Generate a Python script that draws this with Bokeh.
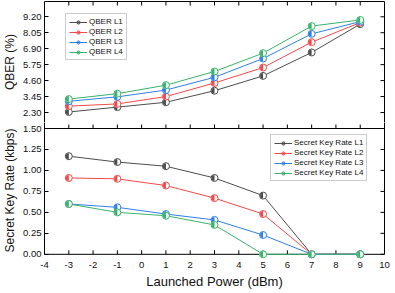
import numpy as np
from bokeh.plotting import figure
from bokeh.models import (LinearAxis, FixedTicker, PrintfTickFormatter, Legend,
                          LegendItem, ColumnDataSource, Range1d, Span)
from bokeh.layouts import column
from bokeh.embed import file_html
from bokeh.resources import INLINE

# ---------------- data ----------------
power = [-3, -1, 1, 3, 5, 7, 9]
qber_l1 = [2.34, 2.69, 3.04, 3.87, 4.94, 6.63, 8.67]
qber_l2 = [2.76, 2.92, 3.45, 4.43, 5.54, 7.37, 8.78]
qber_l3 = [3.11, 3.43, 3.92, 4.84, 6.19, 7.97, 8.85]
qber_l4 = [3.27, 3.66, 4.27, 5.26, 6.58, 8.53, 8.97]
skr_l1 = [1.17, 1.10, 1.05, 0.91, 0.70, 0.0, 0.0]
skr_l2 = [0.91, 0.90, 0.82, 0.67, 0.48, 0.0, 0.0]
skr_l3 = [0.60, 0.56, 0.48, 0.41, 0.23, 0.0, 0.0]
skr_l4 = [0.60, 0.50, 0.46, 0.35, 0.0, 0.0, 0.0]
qber_names = ["QBER L1", "QBER L2", "QBER L3", "QBER L4"]
skr_names = ["Secret Key Rate L1", "Secret Key Rate L2",
             "Secret Key Rate L3", "Secret Key Rate L4"]
x_ticks = list(range(-4, 11))
qber_ticks = [2.30, 3.45, 4.60, 5.75, 6.90, 8.05, 9.20]
skr_ticks = [0.0, 0.25, 0.50, 0.75, 1.00, 1.25, 1.50]

# ---------------- panel geometry ----------------
X0, X1 = -4, 10
Q0, Q1 = 1.15, 10.3          # QBER panel range
S0, S1 = 0.0, 1.5            # secret-key-rate panel range
S_PAD = 0.05                 # room below zero so markers on the axis are whole
TOP_H, BOT_H = 127, 130      # pixel heights of the two panels
STRIP = 6                    # top strip of the lower figure (room for "1.50")
FRAME_W = 340

q_per_px = (Q1 - Q0) / TOP_H
Q_LO = Q1 - (TOP_H - STRIP) * q_per_px
s_lo = S0 - S_PAD
s_per_px = (S1 - s_lo) / BOT_H
S_HI = S1 + STRIP * s_per_px

colors = ["#4d4d4d", "#f24a4a", "#2f7fe6", "#38b36a"]
FONT = "Liberation Sans"


def style_axis(ax, labels=True):
    ax.major_tick_in = 4
    ax.major_tick_out = 0
    ax.minor_tick_in = 0
    ax.minor_tick_out = 0
    ax.axis_line_color = "black"
    ax.major_tick_line_color = "black"
    ax.axis_label_text_font_style = "normal"
    ax.axis_label_text_color = "#111111"
    ax.major_label_text_color = "#111111"
    ax.major_label_text_font = FONT
    ax.major_label_text_font_size = "9.5px"
    ax.major_label_standoff = 3 if labels else 0


def tick_rays(p, xs, ys, angle):
    p.ray(x=xs, y=ys, length=4, length_units="screen", angle=angle,
          line_color="black", line_width=1)


def base_fig(y_range, frame_h, top_border):
    p = figure(frame_width=FRAME_W, frame_height=frame_h,
               x_range=Range1d(X0, X1), y_range=y_range,
               output_backend="svg", toolbar_location=None,
               x_axis_location=None, y_axis_location=None,
               min_border_left=37, min_border_right=6,
               min_border_top=top_border, min_border_bottom=0)
    p.grid.visible = False
    p.outline_line_color = None
    p.background_fill_color = "white"
    p.border_fill_color = "white"
    return p


def edge_axis(p, side, bounds="auto"):
    a = LinearAxis(ticker=FixedTicker(ticks=[]), bounds=bounds)
    style_axis(a, False)
    p.add_layout(a, side)


def add_series(p, series, names):
    items = []
    for ys, name, color in zip(series, names, colors):
        src = ColumnDataSource(dict(x=power, y=ys))
        ln = p.line("x", "y", source=src, line_color=color, line_width=1)
        p.scatter("x", "y", source=src, size=7, marker="circle",
                  fill_color="white", line_color=color, line_width=1)
        p.wedge("x", "y", source=src, radius=3, radius_units="screen",
                start_angle=np.pi / 2, end_angle=3 * np.pi / 2,
                fill_color=color, line_color=None)
        proxy = p.scatter(x=[-100], y=[-100], size=7, marker="circle",
                          fill_color=color, fill_alpha=0.55,
                          line_color=color, line_width=1)
        items.append(LegendItem(label=name, renderers=[ln, proxy]))
    return items


def style_legend(lg):
    lg.label_text_font = FONT
    lg.label_text_font_size = "8px"
    lg.label_text_color = "#111111"
    lg.glyph_width = 18
    lg.glyph_height = 8
    lg.label_height = 8
    lg.label_standoff = 2
    lg.spacing = 1
    lg.padding = 3
    lg.margin = 0
    lg.border_line_color = "#999999"
    lg.background_fill_color = "white"
    lg.background_fill_alpha = 1


# ---------------- top panel: QBER ----------------
p1 = base_fig(Range1d(Q_LO, Q1), TOP_H - STRIP, 1)
ax = LinearAxis(ticker=FixedTicker(ticks=qber_ticks),
                formatter=PrintfTickFormatter(format="%.2f"),
                axis_label="QBER (%)")
style_axis(ax)
ax.axis_label_text_font = FONT
ax.axis_label_text_font_size = "12px"
ax.axis_label_standoff = 3
p1.add_layout(ax, "left")
edge_axis(p1, "above")
edge_axis(p1, "right")
tick_rays(p1, x_ticks, [Q1] * len(x_ticks), -np.pi / 2)
tick_rays(p1, [X1] * len(qber_ticks), qber_ticks, np.pi)

items1 = add_series(p1, [qber_l1, qber_l2, qber_l3, qber_l4], qber_names)
lg1 = Legend(items=items1, location=(21, 62))
style_legend(lg1)
p1.add_layout(lg1, "center")

# ---------------- bottom panel: secret key rate ----------------
p2 = base_fig(Range1d(s_lo, S_HI), BOT_H + STRIP, 0)
ay = LinearAxis(ticker=FixedTicker(ticks=skr_ticks),
                formatter=PrintfTickFormatter(format="%.2f"),
                axis_label="Secret Key Rate (kbps)", bounds=(S0, S_HI))
style_axis(ay)
ay.axis_label_text_font = FONT
ay.axis_label_text_font_size = "12px"
ay.axis_label_standoff = 3
p2.add_layout(ay, "left")
edge_axis(p2, "right", (S0, S_HI))

# x axis labels at the frame bottom; its line and ticks are drawn at y = 0
axb = LinearAxis(ticker=FixedTicker(ticks=x_ticks),
                 formatter=PrintfTickFormatter(format="%d"),
                 axis_label="Launched Power (dBm)")
style_axis(axb)
axb.axis_line_color = None
axb.major_tick_in = 0
axb.axis_label_text_font = FONT
axb.axis_label_text_font_size = "13px"
axb.axis_label_standoff = 3
p2.add_layout(axb, "below")
p2.add_layout(Span(location=S0, dimension="width", line_color="black",
                   line_width=1, level="underlay"))
p2.add_layout(Span(location=S1, dimension="width", line_color="black",
                   line_width=1))
tick_rays(p2, x_ticks, [S0] * len(x_ticks), np.pi / 2)
tick_rays(p2, x_ticks, [S1] * len(x_ticks), np.pi / 2)
tick_rays(p2, [X1] * len(skr_ticks), skr_ticks, np.pi)

items2 = add_series(p2, [skr_l1, skr_l2, skr_l3, skr_l4], skr_names)
lg2 = Legend(items=items2, location=(226, 77))
style_legend(lg2)
p2.add_layout(lg2, "center")

layout = column(p1, p2, spacing=0)
open("out.html", "w").write(file_html(layout, INLINE))
